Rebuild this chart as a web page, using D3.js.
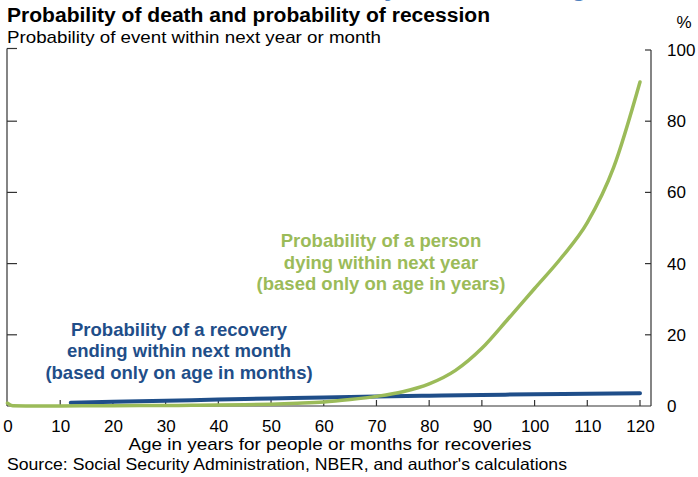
<!DOCTYPE html>
<html><head><meta charset="utf-8">
<script src="https://cdn.jsdelivr.net/npm/d3@7"></script>
<style>
body{margin:0;background:#fff;}
svg{display:block;font-family:"Liberation Sans",Arial,sans-serif;}
</style></head>
<body>
<svg id="c" width="698" height="477"></svg>
<script>
// Probability of dying within next year, by age in years (%)
const deathAges = [0,1,5,10,15,20,25,30,35,40,45,50,55,60,65,70,75,80,85,90,95,100,105,110,115,120];
const deathProb = [0.8,0.06,0.02,0.02,0.05,0.1,0.12,0.15,0.18,0.25,0.35,0.5,0.75,1.1,1.8,2.7,4.0,6.2,10.0,16.2,24.5,33.0,41.5,51.5,67,91];
// Probability of a recovery ending within next month, by age in months (%)
const recAges = [12,20,30,40,50,60,70,80,90,100,110,120];
const recProb = [0.9,1.2,1.5,1.8,2.1,2.4,2.65,2.9,3.1,3.3,3.45,3.6];
const xTicks = [0,10,20,30,40,50,60,70,80,90,100,110,120];
const yTicks = [0,20,40,60,80,100];

const svg = d3.select("#c");
const x = d3.scaleLinear().domain([0,120]).range([7.5,640]);
const y = d3.scaleLinear().domain([0,100]).range([406,50]);
const axisCol = "#333";
const green = "#9BBB59", blue = "#1F4E89";
const FF = "Liberation Sans, Arial, sans-serif";

// cut-off heading fragments at very top
svg.append("text").attr("x",384).attr("y",-4).attr("font-size",26).attr("font-weight","bold").attr("fill","#4F81BD").text("y");
svg.append("text").attr("x",571).attr("y",-4).attr("font-size",26).attr("font-weight","bold").attr("fill","#4F81BD").text("g");

// titles
svg.append("text").attr("x",7).attr("y",22).attr("font-size",20).attr("font-weight","bold").attr("fill","#000")
  .attr("textLength",483).attr("lengthAdjust","spacingAndGlyphs")
  .text("Probability of death and probability of recession");
svg.append("text").attr("x",7).attr("y",42.5).attr("font-size",17).attr("fill","#000")
  .attr("textLength",374).attr("lengthAdjust","spacingAndGlyphs")
  .text("Probability of event within next year or month");
svg.append("text").attr("x",684).attr("y",28).attr("font-size",17).attr("text-anchor","middle").text("%");

// right axis
const yAxisR = d3.axisRight(y).tickValues(yTicks).tickSize(0).tickPadding(16);
const gR = svg.append("g").attr("transform","translate(651,0)").call(yAxisR);
gR.select(".domain").remove();
gR.selectAll("text").attr("font-size",17).attr("fill","#000").attr("font-family",FF);
svg.append("line").attr("x1",651).attr("x2",651).attr("y1",y(100)).attr("y2",406).attr("stroke",axisCol).attr("stroke-width",1.2);
svg.selectAll(".rt").data(yTicks.slice(1)).join("line")
  .attr("x1",645).attr("x2",651).attr("y1",d=>y(d)).attr("y2",d=>y(d)).attr("stroke",axisCol).attr("stroke-width",1.2);

// left axis
svg.append("line").attr("x1",7).attr("x2",7).attr("y1",48.5).attr("y2",406).attr("stroke",axisCol).attr("stroke-width",1.2);
svg.selectAll(".lt").data(yTicks.slice(1)).join("line")
  .attr("x1",7).attr("x2",17).attr("y1",d=>d===100?48.5:y(d)).attr("y2",d=>d===100?48.5:y(d)).attr("stroke",axisCol).attr("stroke-width",1.2);

// bottom axis
const xAxis = d3.axisBottom(x).tickValues(xTicks).tickSize(0).tickPadding(14);
const gX = svg.append("g").attr("transform","translate(0,406)").call(xAxis);
gX.select(".domain").remove();
gX.selectAll("text").attr("font-size",17).attr("fill","#000").attr("font-family",FF);
svg.append("line").attr("x1",7).attr("x2",651).attr("y1",406).attr("y2",406).attr("stroke",axisCol).attr("stroke-width",1.2);
svg.selectAll(".bt").data(xTicks.slice(1)).join("line")
  .attr("x1",d=>x(d)).attr("x2",d=>x(d)).attr("y1",400).attr("y2",406).attr("stroke",axisCol).attr("stroke-width",1.2);

svg.append("text").attr("x",330).attr("y",450).attr("font-size",17).attr("text-anchor","middle")
  .attr("textLength",403).attr("lengthAdjust","spacingAndGlyphs")
  .text("Age in years for people or months for recoveries");
svg.append("text").attr("x",7).attr("y",470).attr("font-size",16.5)
  .attr("textLength",560).attr("lengthAdjust","spacingAndGlyphs")
  .text("Source: Social Security Administration, NBER, and author's calculations");

// lines
const line = d3.line().x(d=>x(d[0])).y(d=>y(d[1])).curve(d3.curveMonotoneX);
svg.append("path").datum(recAges.map((a,i)=>[a,recProb[i]])).attr("d",line)
  .attr("fill","none").attr("stroke",blue).attr("stroke-width",4).attr("stroke-linecap","round");
svg.append("path").datum(deathAges.map((a,i)=>[a,deathProb[i]])).attr("d",line)
  .attr("fill","none").attr("stroke",green).attr("stroke-width",3.5).attr("stroke-linecap","round");

// annotations
const gLab = ["Probability of a person","dying within next year","(based only on age in years)"];
const bLab = ["Probability of a recovery","ending within next month","(based only on age in months)"];
svg.append("text").attr("font-size",18.5).attr("font-weight","bold").attr("fill",green).attr("text-anchor","middle")
  .selectAll("tspan").data(gLab).join("tspan").attr("x",381).attr("y",(d,i)=>247+i*21.5).text(d=>d);
svg.append("text").attr("font-size",18.5).attr("font-weight","bold").attr("fill",blue).attr("text-anchor","middle")
  .selectAll("tspan").data(bLab).join("tspan").attr("x",179).attr("y",(d,i)=>336+i*21.3).text(d=>d);
</script>
</body></html>
